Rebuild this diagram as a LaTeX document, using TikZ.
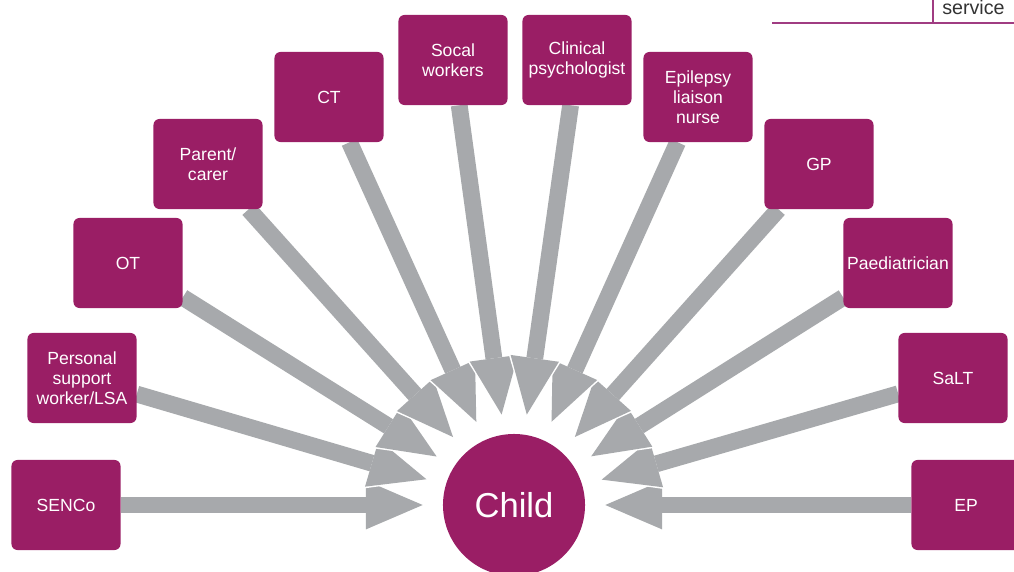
\documentclass[tikz,border=0pt]{standalone}
\usepackage{fontspec}
\setmainfont{Liberation Sans}
\usetikzlibrary{shapes,arrows.meta,backgrounds,positioning}

\definecolor{plum}{RGB}{154,30,101}
\definecolor{linkgrey}{RGB}{167,169,172}
\definecolor{rulepink}{RGB}{160,60,130}

\begin{document}
\begin{tikzpicture}[x=0.025cm, y=-0.025cm]
			\tikzstyle{Agency}	= [rectangle, rounded corners=0.15cm, fill=plum, text=white, minimum width=2.725cm, minimum height=2.25cm, inner sep=0pt, align=center, font=\fontsize{12.5}{14.2}\selectfont]
			\tikzstyle{Centre}	= [circle, fill=plum, text=white, minimum size=3.55cm, inner sep=0pt, font=\fontsize{24.6}{28}\selectfont]
			\tikzstyle{Link}	= [line width=0.42cm, draw=linkgrey, -{Triangle[length=1.42cm, width=1.22cm, line width=0pt]}, shorten >=0.5cm,
			                   preaction={draw=white, line width=0.52cm, -{Triangle[length=1.54cm, width=1.38cm, line width=0pt]}, shorten >=0.46cm}]
			\tikzstyle{Rule}	= [line width=0.9pt, rulepink]
			
			\useasboundingbox (0,0) rectangle (1014,572);
			
			\node (child) at (514,505) [Centre] {Child};
			
			\node (senco) at (66,505) [Agency] {SENCo};
			\node (psw) at (82,378) [Agency] {Personal\\support\\worker/LSA};
			\node (ot) at (128,263) [Agency] {OT};
			\node (parent) at (208,164) [Agency] {Parent/\\carer};
			\node (ct) at (329,97) [Agency] {CT};
			\node (social) at (453,60) [Agency] {Socal\\workers};
			\node (clinical) at (577,60) [Agency] {Clinical\\psychologist};
			\node (nurse) at (698,97) [Agency] {Epilepsy\\liaison\\nurse};
			\node (gp) at (819,164) [Agency] {GP};
			\node (paed) at (898,263) [Agency] {Paediatrician};
			\node (salt) at (953,378) [Agency] {SaLT};
			\node (ep) at (966,505) [Agency] {EP};
			
			\begin{pgfonlayer}{background}
				\draw [Link] (senco) to (child);
				\draw [Link] (ep) to (child);
				\draw [Link] (psw) to (child);
				\draw [Link] (salt) to (child);
				\draw [Link] (ot) to (child);
				\draw [Link] (paed) to (child);
				\draw [Link] (parent) to (child);
				\draw [Link] (gp) to (child);
				\draw [Link] (ct) to (child);
				\draw [Link] (nurse) to (child);
				\draw [Link] (social) to (child);
				\draw [Link] (clinical) to (child);
			\end{pgfonlayer}
			
			% corner of the table above
			\draw [Rule] (772,23) -- (1014,23);
			\draw [Rule] (933,0) -- (933,23);
			\node (service) at (942,15) [anchor=base west, inner sep=0pt, text=black!80, font=\fontsize{14}{16}\selectfont] {service};
			
\end{tikzpicture}
\end{document}
